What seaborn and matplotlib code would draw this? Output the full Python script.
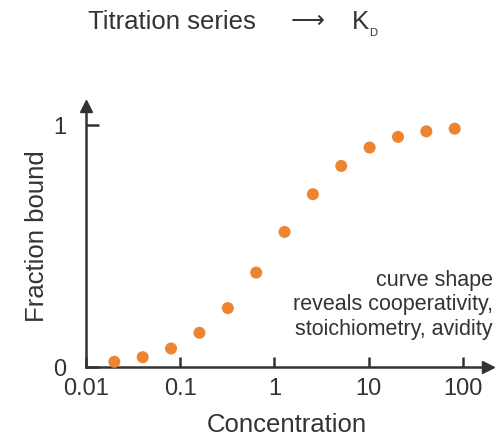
import numpy as np
import pandas as pd
import matplotlib
matplotlib.use("Agg")
import matplotlib.pyplot as plt
import seaborn as sns

# titration series: concentration doubles each step
concentration = [0.02, 0.04, 0.08, 0.16, 0.32, 0.64, 1.28, 2.56, 5.12, 10.24, 20.48, 40.96, 81.92]
fraction_bound = [0.022, 0.041, 0.077, 0.142, 0.244, 0.391, 0.559, 0.715, 0.832, 0.908, 0.952, 0.975, 0.986]
x_ticks = [0.01, 0.1, 1, 10, 100]
x_tick_labels = ["0.01", "0.1", "1", "10", "100"]
y_ticks = [0, 1]
y_tick_labels = ["0", "1"]

df = pd.DataFrame({"concentration": concentration, "fraction_bound": fraction_bound})

sns.set_style("white")
plt.rcParams["font.family"] = ["Liberation Sans", "DejaVu Sans"]
plt.rcParams["xtick.bottom"] = True
plt.rcParams["ytick.left"] = True

ink = "#333333"
orange = "#ED8530"

fig = plt.figure(figsize=(4.97, 4.36), dpi=100)
ax = fig.add_axes([0.173, 0.158, 0.809, 0.599])

sns.scatterplot(data=df, x="concentration", y="fraction_bound", ax=ax,
                color=orange, s=75, edgecolor="none", linewidth=0, zorder=3, clip_on=False)

ax.set_xscale("log")
ax.set_xlim(0.01, 185)
ax.set_ylim(0, 1.08)

for side in ["top", "right"]:
    ax.spines[side].set_visible(False)
for side in ["left", "bottom"]:
    ax.spines[side].set_color(ink)
    ax.spines[side].set_linewidth(1.8)

# arrow heads on the axes
ax.plot(1, 0, ">", color=ink, markersize=8, transform=ax.get_yaxis_transform(), clip_on=False)
ax.plot(0, 1, "^", color=ink, markersize=8, transform=ax.transAxes, clip_on=False)

ax.set_xticks(x_ticks)
ax.set_xticklabels(x_tick_labels)
ax.minorticks_off()
ax.set_yticks(y_ticks)
ax.set_yticklabels(y_tick_labels)
ax.tick_params(axis="x", which="major", bottom=True, direction="in", length=7, width=1.8,
               color=ink, labelsize=17, labelcolor=ink, pad=8)
ax.tick_params(axis="y", which="major", left=True, direction="in", length=9, width=1.8,
               color=ink, labelsize=17, labelcolor=ink, pad=14)

ax.set_xlabel("Concentration", fontsize=18.5, color=ink, labelpad=9)
ax.set_ylabel("Fraction bound", fontsize=18.5, color=ink, labelpad=3)

ax.text(1.012, 0.372, "curve shape\nreveals cooperativity,\nstoichiometry, avidity",
        transform=ax.transAxes, ha="right", va="top", fontsize=15.5, color=ink,
        linespacing=1.22)

# title pieces
fig.text(88 / 497, 0.95, "Titration series", ha="left", va="center", fontsize=18.5, color=ink)
fig.text(306 / 497, 0.952, "$\\longrightarrow$", ha="center", va="center", fontsize=17, color=ink)
fig.text(352 / 497, 0.95, "K", ha="left", va="center", fontsize=18.5, color=ink)
fig.text(369 / 497, 0.925, "D", ha="left", va="center", fontsize=8, color=ink)

fig.savefig("out.png", dpi=100)
